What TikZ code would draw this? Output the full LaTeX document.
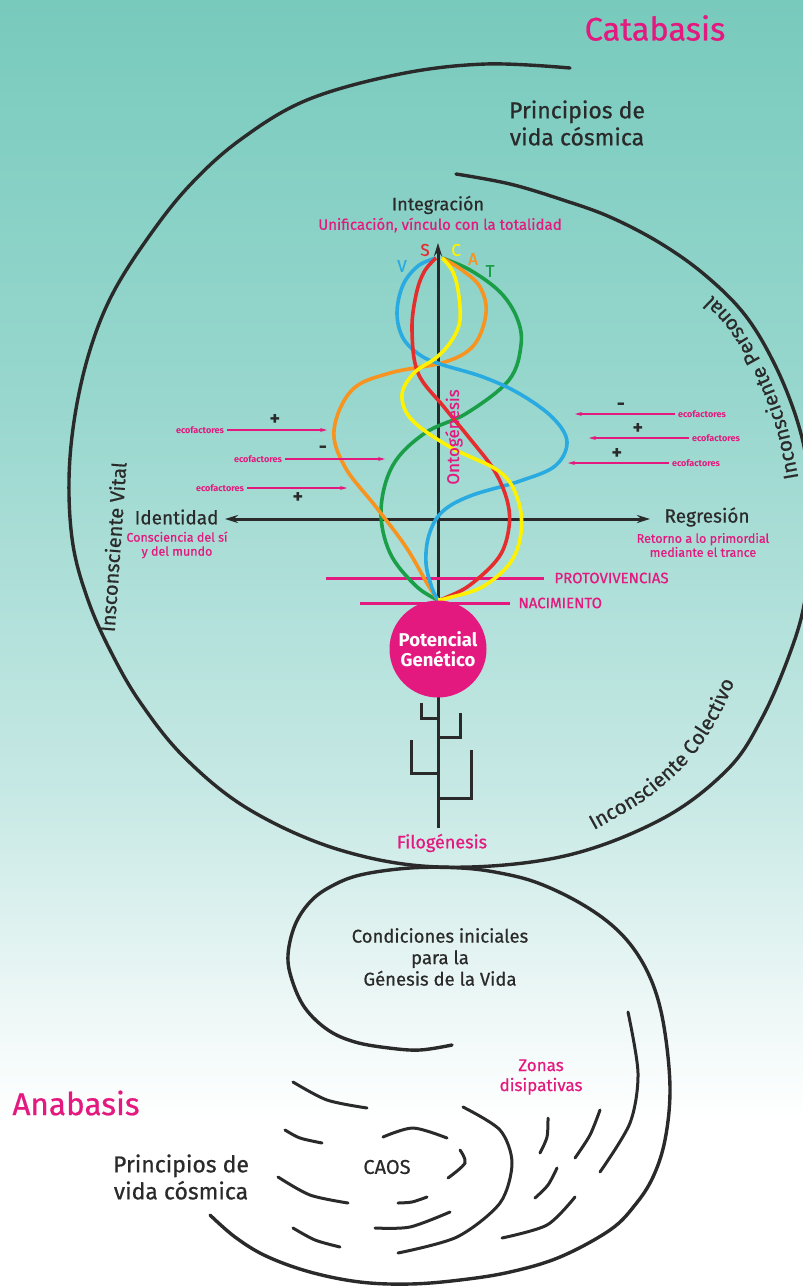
\documentclass[tikz,border=0pt]{standalone}
\usepackage{fontspec}
\setmainfont{Fira Sans}[UprightFeatures={FakeBold=0.6}]
\usetikzlibrary{arrows.meta,decorations.text}
\definecolor{pk}{HTML}{E4197F}
\definecolor{dk}{HTML}{2A2A2A}
\definecolor{cB}{HTML}{29ABE2}
\definecolor{cR}{HTML}{E52D2D}
\definecolor{cY}{HTML}{FFF200}
\definecolor{cO}{HTML}{F7931E}
\definecolor{cG}{HTML}{1B9E48}
\definecolor{bga}{RGB}{120,202,189}
\definecolor{bgb}{RGB}{152,215,206}
\definecolor{bgc}{RGB}{200,233,229}
\definecolor{bgd}{RGB}{236,247,246}
\newcommand{\fs}[2]{\fontsize{#1}{#2}\selectfont}
\begin{document}
\begin{tikzpicture}[x=1pt,y=-1pt,
  spiral/.style={dk,line width=3.4pt,line cap=round},
  dashline/.style={dk,line width=3pt,line cap=round},
  strand/.style={line width=3.6pt},
  axisline/.style={dk,line width=3pt},
  pkline/.style={pk,line width=3pt},
  pkarrow/.style={pk,line width=1.4pt,-{Stealth[length=7pt,width=4pt]}},
  eco/.style={text=pk,font=\bfseries\fs{9}{10}},
  sign/.style={text=dk,font=\bfseries\fs{20}{20}},
  dtext/.style={text=dk},
  ptext/.style={text=pk}]
\useasboundingbox (0,0) rectangle (803,1288);
% background
\fill[top color=bga,bottom color=bgb] (0,0) rectangle (803,401);
\fill[top color=bgb,bottom color=bgc] (0,400) rectangle (803,801);
\fill[top color=bgc,bottom color=bgd] (0,800) rectangle (803,1001);
\fill[top color=bgd,bottom color=white] (0,1000) rectangle (803,1121);
\fill[white] (0,1120) rectangle (803,1288);

% big spiral
\draw[spiral] plot[smooth,tension=0.6] coordinates {(570,68) (486,64) (400,74) (307,100) (240,140) (190,185) (150,235) (113,293) (90,350) (75,415) (69,480) (73,545) (88,600) (110,650) (140,702) (185,758) (250,810) (340,850) (440,867) (560,857) (660,820) (727,770) (762,718) (790,653) (805,600) (812,530) (808,470) (797,420) (775,365) (745,315) (705,275) (660,243) (610,217) (563,200) (510,184) (456,174)};

% lower spiral
\draw[spiral] plot[smooth,tension=0.6] coordinates {(452,1045) (420,1050) (389,1048) (355,1042) (328,1030) (305,1008) (292,980) (288,955) (295,925) (310,902) (330,887) (360,875) (410,868) (461,868) (500,873) (538,883) (580,903) (614,927) (638,955) (655,990) (665,1033) (670,1090) (665,1140) (653,1177) (635,1205) (610,1230) (560,1257) (510,1272) (460,1280) (410,1284) (360,1282) (310,1272) (266,1256) (235,1237) (210,1215)};

% dissipative dashes
\draw[dashline] plot[smooth] coordinates {(628,1012) (638,1073) (630,1123) (600,1172)};
\draw[dashline] plot[smooth] coordinates {(600,1110) (590,1135) (575,1158)};
\draw[dashline] plot[smooth] coordinates {(548,1118) (547,1137) (540,1153)};
\draw[dashline] plot[smooth] coordinates {(557,1168) (548,1185) (535,1198)};
\draw[dashline] plot[smooth] coordinates {(575,1197) (547,1225) (502,1238)};
\draw[dashline] plot[smooth] coordinates {(463,1107) (500,1130) (512,1163) (500,1203) (457,1237) (398,1253)};
\draw[dashline] plot[smooth] coordinates {(383,1137) (413,1128) (447,1138)};
\draw[dashline] plot[smooth] coordinates {(460,1150) (465,1163) (448,1178)};
\draw[dashline] plot[smooth] coordinates {(398,1203) (412,1202) (427,1197)};
\draw[dashline] plot[smooth] coordinates {(375,1228) (410,1227) (450,1212)};
\draw[dashline] plot[smooth] coordinates {(293,1082) (327,1100) (367,1108)};
\draw[dashline] plot[smooth] coordinates {(285,1130) (300,1138) (322,1143)};
\draw[dashline] plot[smooth] coordinates {(278,1177) (310,1195) (348,1203)};
\draw[dashline] plot[smooth] coordinates {(293,1228) (315,1240) (340,1247)};

% titles
\node[ptext,font=\fs{32.5}{32}] (cata) at (655,28) {Catabasis};
\node[ptext,font=\fs{31.5}{31}] (ana) at (76,1103) {Anabasis};
\node[dtext,align=center,font=\fs{23}{27}] (pvc1) at (577,123) {Principios de\\vida cósmica};
\node[dtext,align=center,font=\fs{23}{27}] (pvc2) at (181,1177) {Principios de\\vida cósmica};
\node[dtext,align=center,font=\fs{18.5}{21.5}] (cond) at (440,957) {Condiciones iniciales\\para la\\Génesis de la Vida};
\node[ptext,align=center,font=\fs{17}{20}] (zonas) at (541,1077) {Zonas\\disipativas};
\node[dtext,font=\fs{20}{20}] (caos) at (387,1167) {CAOS};

% curved labels
\node[dtext,font=\fs{20}{20},rotate=86] (ivital) at (113,547) {Insconsciente Vital};
\path[decorate,decoration={text along path,text align=left,
  text={|\fs{20.5}{20}\color{dk}|Inconsciente Personal}}]
  plot[smooth] coordinates {(798,478) (797,471) (786,423) (765,369) (736,321) (697,282) (652,252) (604,228)};
\path[decorate,decoration={text along path,text align=left,
  text={|\fs{20.5}{20}\color{dk}|Inconsciente Colectivo}}]
  plot[smooth] coordinates {(594,830) (645,800) (688,762) (718,718) (738,672) (748,630) (752,600)};

% axes
\coordinate (vtop) at (438,243);
\coordinate (vbot) at (438,828);
\coordinate (hl) at (225,519);
\coordinate (hr) at (650,519);
\draw[axisline,-{Stealth[length=13pt,width=8pt]}] (vbot) -- (vtop);
\draw[axisline,{Stealth[length=13pt,width=8pt]}-{Stealth[length=13pt,width=8pt]}] (hl) -- (hr);

% phylogeny branches
\draw[axisline] (421,703) -- (421,718) -- (438,718);
\draw[axisline] (438,737) -- (460,737) -- (460,713);
\draw[axisline] (411,740) -- (411,773) -- (438,773);
\draw[axisline] (438,798) -- (471,798) -- (471,750);

% pink lines
\coordinate (p1a) at (326,578); \coordinate (p1b) at (544,578);
\coordinate (p2a) at (360,603); \coordinate (p2b) at (510,603);
\draw[pkline] (p1a) -- (p1b);
\node[ptext,anchor=west,font=\fs{15}{15}] (proto) at (551,578) {PROTOVIVENCIAS};
\node[ptext,anchor=west,font=\fs{15}{15}] (naci) at (515,603) {NACIMIENTO};

% strands
\draw[strand,cG] plot[smooth,tension=0.6] coordinates {(442,258) (470,270) (500,292) (517,318) (521,345) (509,380) (467,413) (425,433) (393,465) (381,510) (390,553) (416,586) (438,600)};
\draw[strand,cO] plot[smooth,tension=0.6] coordinates {(442,258) (462,270) (480,287) (486,313) (474,345) (445,362) (390,373) (352,390) (334,430) (345,467) (376,507) (406,547) (428,585) (438,600)};
\draw[strand,cB] plot[smooth,tension=0.6] coordinates {(436,258) (418,266) (403,285) (397,313) (403,338) (420,355) (440,364) (483,377) (520,394) (553,418) (567,442) (555,466) (520,481) (470,496) (442,512) (429,535) (426,563) (432,588) (438,600)};
\draw[strand,cR] plot[smooth,tension=0.6] coordinates {(436,258) (424,272) (416,295) (412,330) (418,373) (444,407) (471,440) (494,470) (507,500) (509,527) (499,557) (470,585) (445,598) (438,600)};
\draw[strand,cY] plot[smooth,tension=0.6] coordinates {(442,258) (452,270) (458,290) (460,320) (452,340) (437,357) (414,373) (402,395) (412,420) (450,447) (500,472) (518,500) (521,533) (510,563) (482,587) (448,598) (438,600)};

\node[text=cB,font=\fs{17}{17}] (lV) at (402,266) {V};
\node[text=cR,font=\fs{17}{17}] (lS) at (425,250) {S};
\node[text=cY,font=\fs{17}{17}] (lC) at (456,250) {C};
\node[text=cO,font=\fs{17}{17}] (lA) at (473,259) {A};
\node[text=cG,font=\fs{17}{17}] (lT) at (490,271) {T};

% axis labels
\node[dtext,font=\fs{18}{18}] (integ) at (438,205) {Integración};
\node[ptext,font=\fs{15}{15}] (unif) at (440,225) {Unificación, vínculo con la totalidad};
\node[ptext,font=\fs{17}{17},rotate=90] (onto) at (454,437) {Ontogénesis};
\node[dtext,anchor=east,font=\fs{19}{19}] (ident) at (222,517) {Identidad};
\node[ptext,align=center,font=\fs{12.5}{14}] (consc) at (177,545) {Consciencia del sí\\y del mundo};
\node[dtext,anchor=west,font=\fs{19}{19}] (regr) at (661,517) {Regresión};
\node[ptext,align=center,font=\fs{12.5}{14}] (retor) at (703,545) {Retorno a lo primordial\\mediante el trance};

% ecofactores left
\node[eco] (el1) at (200,430) {ecofactores};
\node[eco] (el2) at (258,459) {ecofactores};
\node[eco] (el3) at (220,488) {ecofactores};
\coordinate (el1t) at (327,430);
\coordinate (el2t) at (385,459);
\coordinate (el3t) at (347,488);
\draw[pkarrow] (el1.east) -- (el1t);
\draw[pkarrow] (el2.east) -- (el2t);
\draw[pkarrow] (el3.east) -- (el3t);
\node[sign] (sl1) at (275,420) {+};
\node[sign] (sl2) at (323,450) {-};
\node[sign] (sl3) at (298,498) {+};
% ecofactores right
\node[eco] (er1) at (702,414) {ecofactores};
\node[eco] (er2) at (716,438) {ecofactores};
\node[eco] (er3) at (696,463) {ecofactores};
\coordinate (er1t) at (575,414);
\coordinate (er2t) at (589,438);
\coordinate (er3t) at (568,463);
\draw[pkarrow] (er1.west) -- (er1t);
\draw[pkarrow] (er2.west) -- (er2t);
\draw[pkarrow] (er3.west) -- (er3t);
\node[sign] (sr1) at (621,407) {-};
\node[sign] (sr2) at (638,429) {+};
\node[sign] (sr3) at (617,454) {+};

% potencial genetico
\node[circle,fill=pk,minimum size=97pt,inner sep=0pt,align=center,text=white,font=\bfseries\fs{18.5}{20}] (pot) at (438,649) {Potencial\\Genético};
\draw[pkline] (p2a) -- (p2b);
\node[ptext,font=\fs{18}{18}] (filo) at (442,843) {Filogénesis};
\end{tikzpicture}
\end{document}
